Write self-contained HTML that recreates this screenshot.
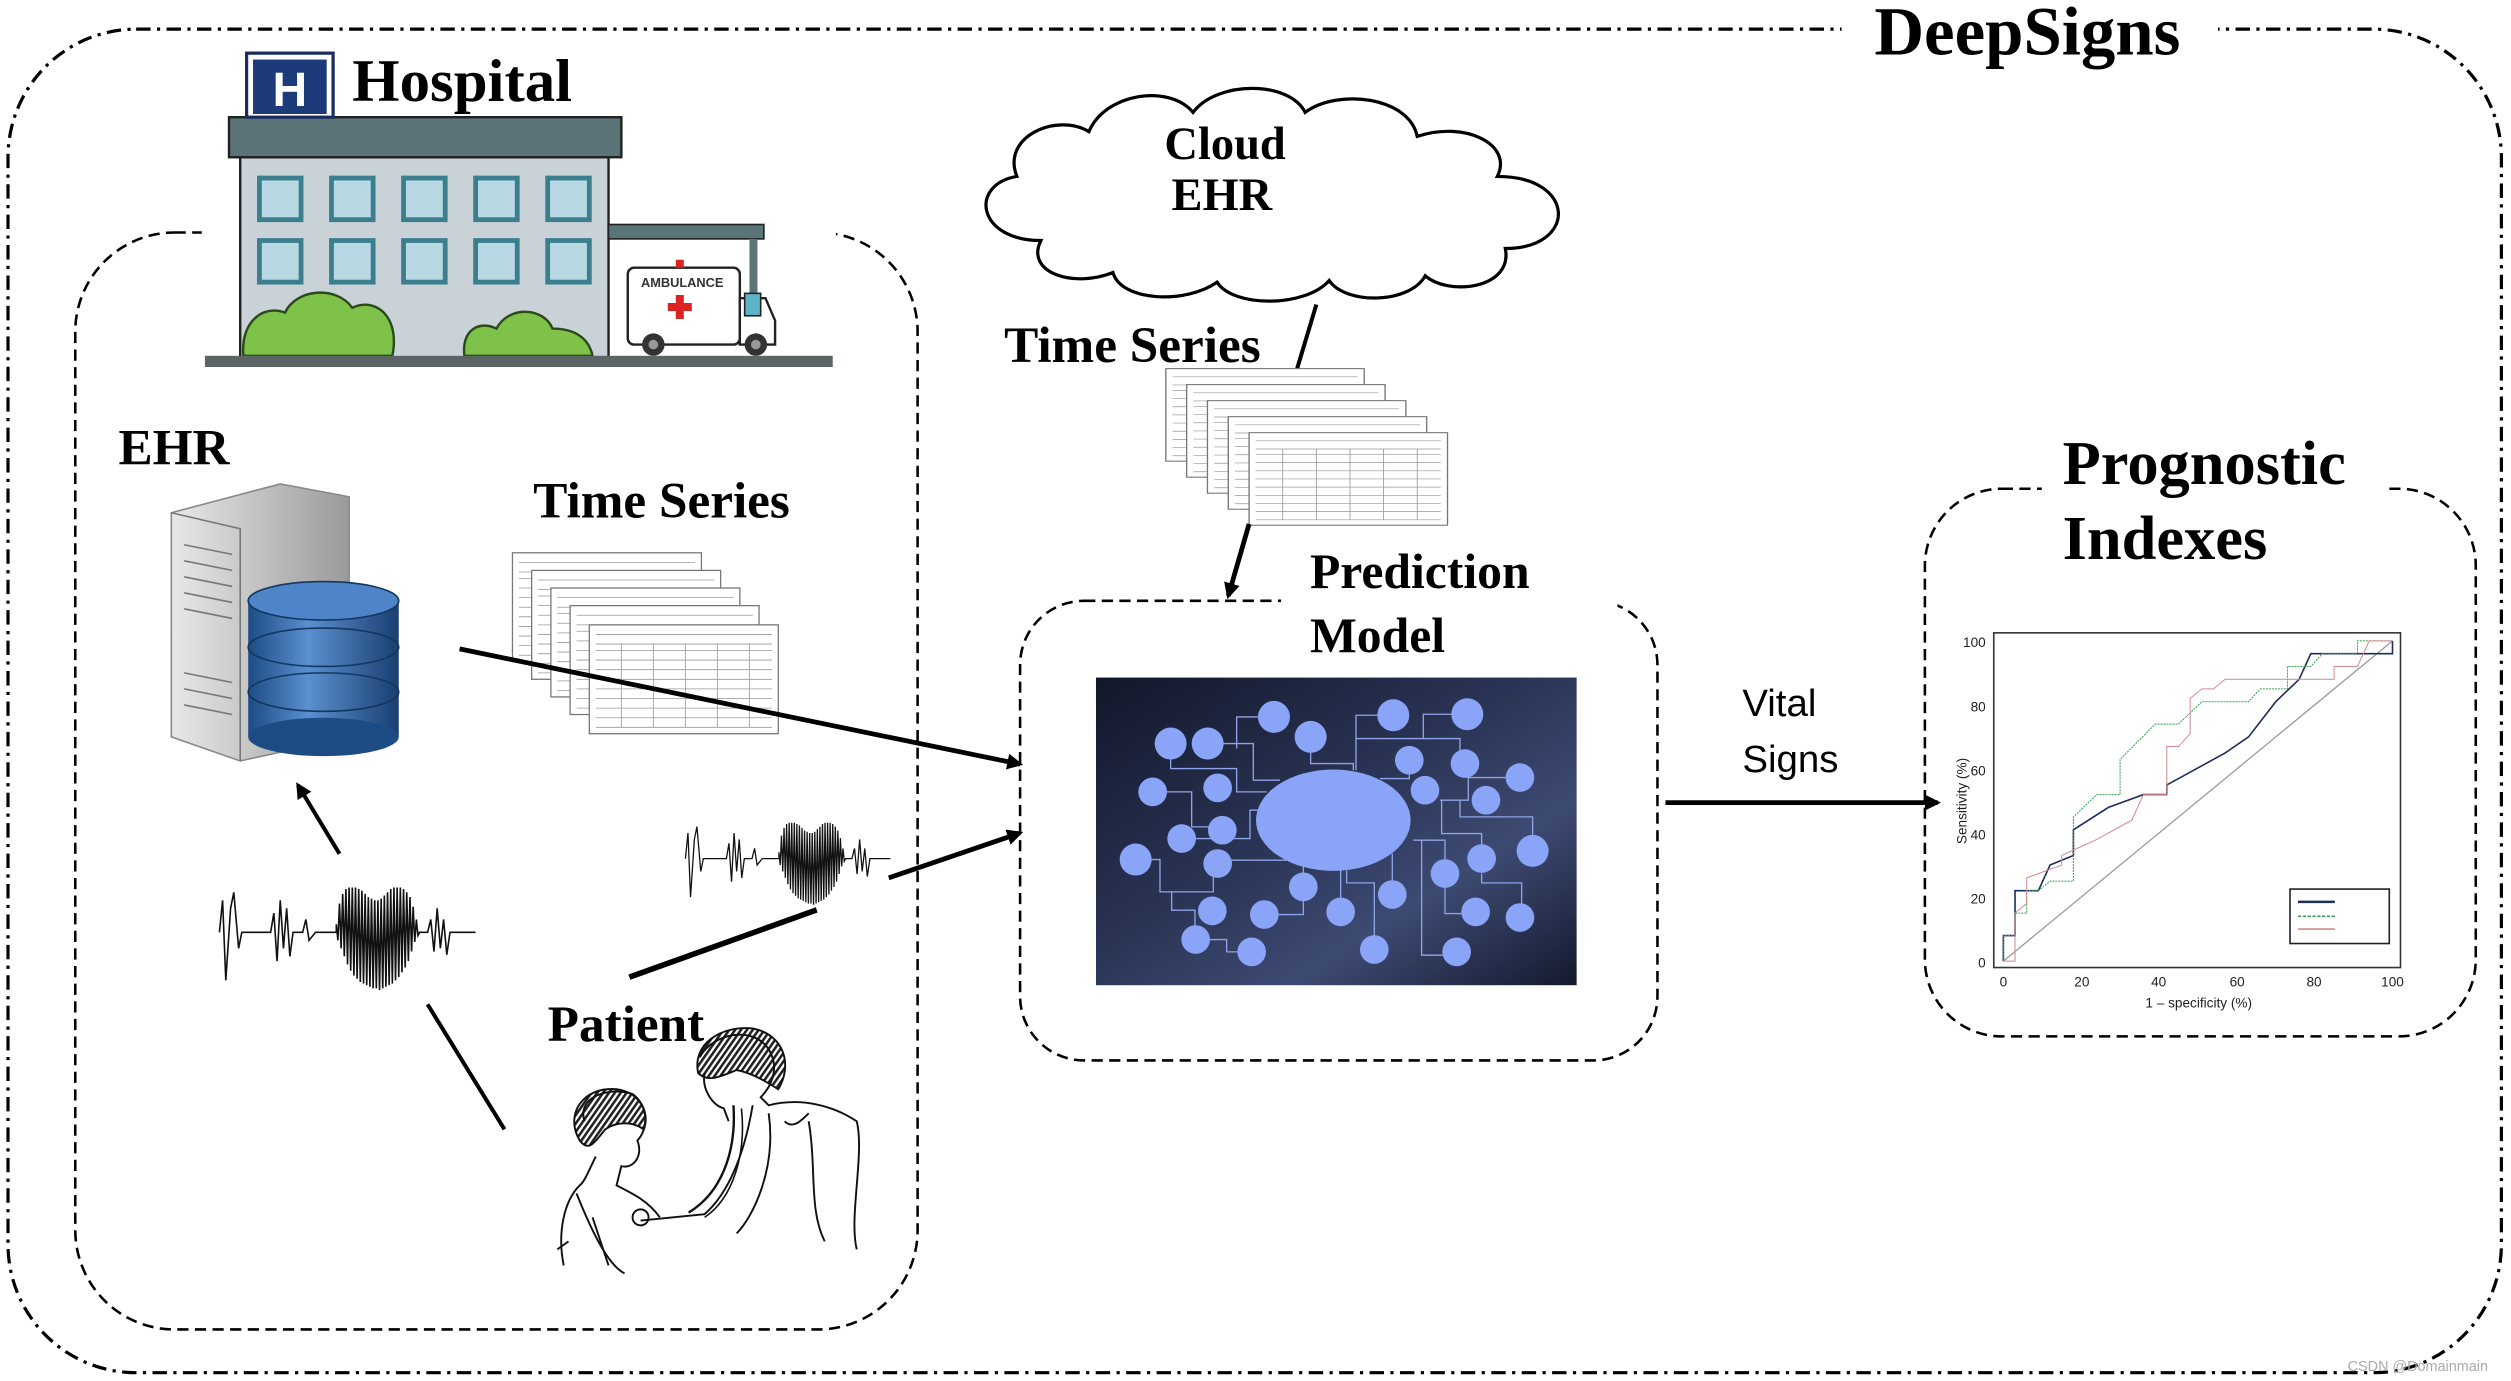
<!DOCTYPE html>
<html><head><meta charset="utf-8"><style>
html,body{margin:0;padding:0;background:#fff;}
svg{display:block;}
.t{font-family:"Liberation Serif",serif;font-weight:bold;fill:#000;}
</style></head><body>
<svg width="2511" height="1381" viewBox="0 0 1568 862" xmlns="http://www.w3.org/2000/svg">
<defs>
<marker id="ah" markerWidth="10" markerHeight="10" refX="8" refY="5" orient="auto" markerUnits="userSpaceOnUse">
<path d="M0,0 L10,5 L0,10 Z" fill="#000"/></marker>
<linearGradient id="ng" x1="0" y1="0" x2="1" y2="1">
<stop offset="0" stop-color="#12172a"/><stop offset="0.45" stop-color="#2a3455"/><stop offset="0.7" stop-color="#3d4a72"/><stop offset="1" stop-color="#141a2e"/></linearGradient>
<linearGradient id="db" x1="0" y1="0" x2="1" y2="0">
<stop offset="0" stop-color="#1d4c85"/><stop offset="0.4" stop-color="#5a8fd0"/><stop offset="1" stop-color="#1a3f70"/></linearGradient>
<linearGradient id="srv" x1="0" y1="0" x2="1" y2="0">
<stop offset="0" stop-color="#e8e8e8"/><stop offset="1" stop-color="#9a9a9a"/></linearGradient>
<pattern id="hair" width="3" height="3" patternUnits="userSpaceOnUse" patternTransform="rotate(35)"><rect width="3" height="3" fill="#fff"/><rect width="1.6" height="3" fill="#222"/></pattern>
<g id="ecg"><path fill="none" stroke="#111" stroke-width="1" d="M0,0 L2,-20 L4,30 L7,-15 L9,-25 L12,10 L14,0 L32,0 L34,-12 L36,18 L38,-20 L40,10 L42,-15 L44,15 L46,0 L52,0 L54,-8 L56,5 L60,0 L73,0 L73,-5 L74,5 L75,-18 L76,10 L77,-24 L78,15 L79,-27 L80,20 L81,-28 L82,24 L83,-28 L84,27 L85,-28 L86,29 L87,-27 L88,31 L89,-26 L90,32 L91,-24 L92,33 L93,-22 L94,34 L95,-21 L96,35 L97,-20 L98,35 L99,-20 L100,36 L101,-21 L102,35 L103,-23 L104,34 L105,-25 L106,33 L107,-27 L108,32 L109,-28 L110,30 L111,-28 L112,28 L113,-28 L114,25 L115,-27 L116,22 L117,-25 L118,18 L119,-22 L120,12 L121,-16 L122,6 L123,-8 L124,2 L125,0 L130,0 L132,-8 L134,12 L136,-15 L138,10 L140,-8 L142,14 L144,0 L160,0"/></g>
<g id="sheet"><rect x="0" y="0" width="118" height="68" fill="#fff" stroke="#777" stroke-width="0.8"/>
<path d="M4,6 H114 M4,12 H114 M4,16 H114 M4,22 H114 M4,28 H114 M4,34 H114 M4,40 H114 M4,46 H114 M4,52 H114 M4,58 H114 M4,64 H114 M20,12 V64 M40,12 V64 M60,12 V64 M80,12 V64 M100,12 V64" stroke="#999" stroke-width="0.5"/></g>
</defs>

<rect x="5" y="18" width="1557" height="839" rx="80" fill="none" stroke="#000" stroke-width="2" stroke-dasharray="9 4 2 4"/>
<rect x="1150" y="5" width="235" height="30" fill="#fff"/>
<text class="t" x="1266" y="34" font-size="43" text-anchor="middle">DeepSigns</text>

<rect x="47" y="145" width="526" height="685" rx="62" fill="none" stroke="#000" stroke-width="1.6" stroke-dasharray="7 4"/>
<rect x="126" y="135" width="396" height="20" fill="#fff"/>

<rect x="150" y="98" width="230" height="125" fill="#c9d2d6" stroke="#222" stroke-width="1.5"/>
<rect x="143" y="73" width="245" height="25" fill="#5b7478" stroke="#222" stroke-width="1.5"/>
<rect x="154" y="33" width="54" height="40" fill="#fff" stroke="#1a2b5e" stroke-width="2"/>
<rect x="158" y="37" width="46" height="34" fill="#1d3a7a"/>
<text x="181" y="66" font-family="Liberation Sans,sans-serif" font-weight="bold" font-size="30" fill="#fff" text-anchor="middle">H</text>
<g fill="#b8d9e3" stroke="#3b7f8f" stroke-width="3">
<rect x="162" y="111" width="26" height="26"/><rect x="207" y="111" width="26" height="26"/><rect x="252" y="111" width="26" height="26"/><rect x="297" y="111" width="26" height="26"/><rect x="342" y="111" width="26" height="26"/>
<rect x="162" y="150" width="26" height="26"/><rect x="207" y="150" width="26" height="26"/><rect x="252" y="150" width="26" height="26"/><rect x="297" y="150" width="26" height="26"/><rect x="342" y="150" width="26" height="26"/>
</g>
<g fill="#7fc24a" stroke="#2a4a1a" stroke-width="1.5">
<path d="M152,222 C150,200 165,190 178,195 C185,180 210,178 220,192 C235,185 250,198 245,222 Z"/>
<path d="M290,222 C288,205 300,200 310,205 C318,190 340,192 345,205 C360,205 368,212 370,222 Z"/>
</g>
<rect x="380" y="140" width="97" height="9" fill="#5b7478" stroke="#222" stroke-width="1"/>
<rect x="468" y="149" width="5" height="60" fill="#5b7478"/>
<rect x="392" y="167" width="70" height="48" rx="4" fill="#fff" stroke="#222" stroke-width="1.5"/>
<path d="M462,186 H478 L484,200 V215 H462 Z" fill="#fff" stroke="#222" stroke-width="1.5"/>
<rect x="465" y="183" width="10" height="14" fill="#5fb3c9" stroke="#222"/>
<text x="426" y="179" font-family="Liberation Sans,sans-serif" font-weight="bold" font-size="8" text-anchor="middle" fill="#333">AMBULANCE</text>
<path d="M422,184 h5 v5 h5 v5 h-5 v5 h-5 v-5 h-5 v-5 h5 Z" fill="#d22"/>
<rect x="422" y="162" width="5" height="5" fill="#d22"/>
<circle cx="408" cy="215" r="7" fill="#333"/><circle cx="408" cy="215" r="3" fill="#999"/>
<circle cx="472" cy="215" r="7" fill="#333"/><circle cx="472" cy="215" r="3" fill="#999"/>
<rect x="128" y="222" width="392" height="7" fill="#5d6466"/>
<text class="t" x="220" y="63" font-size="38">Hospital</text>

<text class="t" x="74" y="290" font-size="32">EHR</text>
<path d="M107,320 L175,302 L218,310 L218,460 L150,475 L107,460 Z" fill="url(#srv)" stroke="#888"/>
<path d="M107,320 L150,330 L150,475" fill="none" stroke="#777"/>
<g stroke="#777" stroke-width="1"><path d="M115,340 L145,346 M115,350 L145,356 M115,360 L145,366 M115,370 L145,376 M115,380 L145,386 M115,420 L145,426 M115,430 L145,436 M115,440 L145,446"/></g>
<rect x="155" y="375" width="94" height="85" fill="url(#db)"/>
<ellipse cx="202" cy="460" rx="47" ry="12" fill="#1d4c85"/>
<ellipse cx="202" cy="432" rx="47" ry="12" fill="url(#db)" stroke="#143760"/>
<ellipse cx="202" cy="404" rx="47" ry="12" fill="url(#db)" stroke="#143760"/>
<ellipse cx="202" cy="375" rx="47" ry="12" fill="#4f85c8" stroke="#143760"/>

<text class="t" x="333" y="323" font-size="32">Time Series</text>
<use href="#sheet" x="320" y="345"/><use href="#sheet" x="332" y="356"/><use href="#sheet" x="344" y="367"/><use href="#sheet" x="356" y="378"/><use href="#sheet" x="368" y="390"/>

<use href="#ecg" transform="translate(137,582)"/>
<use href="#ecg" transform="translate(428,536) scale(0.8)"/>

<text class="t" x="342" y="650" font-size="32">Patient</text>
<g stroke="#111" stroke-width="1.2">
<path d="M362,712 C352,695 365,678 385,680 C400,682 406,695 402,705 C395,700 385,700 378,705 C372,712 368,720 362,712 Z" fill="url(#hair)"/>
<path d="M436,670 C432,652 450,640 470,642 C490,646 495,665 486,680 C478,675 470,670 460,668 C450,672 442,676 436,670 Z" fill="url(#hair)"/>
</g>
<g fill="none" stroke="#111" stroke-width="1.2">
<path d="M365,700 C360,685 380,678 395,683 C405,690 405,705 398,712 C402,722 395,730 388,728 L385,740 C395,745 405,750 412,760 M372,722 C368,730 365,738 362,740 C352,750 348,770 352,790 M360,745 C370,770 380,790 390,795 M355,775 L348,780 M370,760 L380,790"/>
<path d="M437,660 C445,645 470,640 480,655 C488,668 480,680 475,685 L480,690 C500,685 520,690 535,700 C540,720 530,760 535,780 M440,670 C438,680 445,690 452,692 L455,700 M470,690 C465,720 455,745 440,758 L400,762 M480,695 C485,730 470,760 460,770 M505,700 C510,730 505,755 515,775 M490,700 C495,705 500,700 505,695"/>
<path d="M458,690 C460,720 450,745 430,757" stroke-width="1.5"/>
<path d="M463,692 C466,720 458,748 440,760" stroke-width="1"/>
<circle cx="400" cy="760" r="5"/>
</g>

<line x1="287" y1="405" x2="637" y2="477" stroke="#000" stroke-width="3" marker-end="url(#ah)"/>
<line x1="555" y1="548" x2="637" y2="520" stroke="#000" stroke-width="3" marker-end="url(#ah)"/>
<line x1="393" y1="610" x2="510" y2="568" stroke="#000" stroke-width="3.5"/>
<line x1="267" y1="627" x2="315" y2="705" stroke="#000" stroke-width="2.5"/>
<line x1="212" y1="533" x2="186" y2="490" stroke="#000" stroke-width="2.5" marker-end="url(#ah)"/>

<path d="M650,150 C610,150 605,115 635,110 C625,85 660,70 680,82 C690,58 730,52 745,70 C760,50 805,50 815,70 C835,55 880,60 885,85 C915,75 945,90 935,110 C985,110 985,155 940,155 C945,180 905,185 890,172 C880,190 840,190 830,175 C815,192 770,192 760,176 C740,190 700,188 695,170 C670,180 640,170 650,150 Z" fill="#fff" stroke="#000" stroke-width="2"/>
<text class="t" x="765" y="99" font-size="29" text-anchor="middle">Cloud</text>
<text class="t" x="763" y="131" font-size="29" text-anchor="middle">EHR</text>
<line x1="822" y1="190" x2="810" y2="230" stroke="#000" stroke-width="2.5"/>

<text class="t" x="627" y="226" font-size="32">Time Series</text>
<g transform="translate(728,230) scale(1.05,0.85)"><use href="#sheet"/></g>
<g transform="translate(741,240) scale(1.05,0.85)"><use href="#sheet"/></g>
<g transform="translate(754,250) scale(1.05,0.85)"><use href="#sheet"/></g>
<g transform="translate(767,260) scale(1.05,0.85)"><use href="#sheet"/></g>
<g transform="translate(780,270) scale(1.05,0.85)"><use href="#sheet"/></g>
<line x1="780" y1="327" x2="767" y2="372" stroke="#000" stroke-width="3" marker-end="url(#ah)"/>

<rect x="637" y="375" width="398" height="287" rx="40" fill="none" stroke="#000" stroke-width="1.6" stroke-dasharray="7 4"/>
<rect x="800" y="365" width="210" height="20" fill="#fff"/>
<text class="t" x="818" y="367" font-size="31">Prediction</text>
<text class="t" x="818" y="407" font-size="31">Model</text>

<svg x="674.4" y="412.1" width="324.7" height="212.3" viewBox="0 0 1560 1020">
<rect x="48" y="52" width="1442" height="923" fill="url(#ng)"/>
<g fill="none" stroke="#8fa4e6" stroke-width="4">
<path d="M272,250 V325 H470 V395 H560"/><path d="M383,250 H520 V360 H600"/><path d="M582,170 H470 V265"/><path d="M692,230 V310 H820 V330"/>
<path d="M940,165 H828 V330"/><path d="M828,235 H1140 V310"/><path d="M1162,162 H1030 V235"/><path d="M988,300 V355 H900"/>
<path d="M1320,352 H1165 V420 H1080"/><path d="M218,395 H335 V500 H427"/><path d="M305,535 H510 V450 H540"/><path d="M1140,420 V470 H1358 V572"/>
<path d="M1085,420 V520 H1205 V595"/><path d="M413,600 H620"/><path d="M167,598 H240 V695 H400 V610"/><path d="M275,695 V750 H345 V838"/>
<path d="M347,838 H440 V875 H515"/><path d="M553,763 H670 V620"/><path d="M782,755 V630"/><path d="M800,630 V668 H883 V868"/>
<path d="M937,703 V580"/><path d="M1025,540 V885 H1130"/><path d="M1000,540 H1095 V760 H1187"/><path d="M1205,640 V668 H1325 V772"/>
</g>
<ellipse cx="760" cy="480" rx="232" ry="152" fill="#8aa4f7"/>
<g fill="#8aa4f7">
<circle cx="272" cy="250" r="48"/><circle cx="383" cy="250" r="48"/><circle cx="582" cy="170" r="48"/><circle cx="692" cy="230" r="48"/>
<circle cx="940" cy="165" r="48"/><circle cx="1162" cy="162" r="48"/><circle cx="988" cy="300" r="43"/><circle cx="1155" cy="310" r="43"/>
<circle cx="1320" cy="352" r="43"/><circle cx="218" cy="395" r="43"/><circle cx="413" cy="383" r="43"/><circle cx="1035" cy="390" r="43"/>
<circle cx="1218" cy="420" r="43"/><circle cx="427" cy="510" r="43"/><circle cx="305" cy="535" r="43"/><circle cx="1358" cy="572" r="48"/>
<circle cx="167" cy="598" r="48"/><circle cx="413" cy="610" r="43"/><circle cx="1205" cy="595" r="43"/><circle cx="1095" cy="640" r="43"/>
<circle cx="670" cy="680" r="43"/><circle cx="937" cy="703" r="43"/><circle cx="397" cy="752" r="43"/><circle cx="553" cy="763" r="43"/>
<circle cx="782" cy="755" r="43"/><circle cx="1187" cy="755" r="43"/><circle cx="1320" cy="772" r="43"/><circle cx="347" cy="838" r="43"/>
<circle cx="515" cy="875" r="43"/><circle cx="883" cy="868" r="43"/><circle cx="1130" cy="875" r="43"/>
</g>
</svg>

<text x="1088" y="447" font-family="Liberation Sans,sans-serif" font-size="24">Vital</text>
<text x="1088" y="482" font-family="Liberation Sans,sans-serif" font-size="24">Signs</text>
<line x1="1040" y1="501" x2="1210" y2="501" stroke="#000" stroke-width="3" marker-end="url(#ah)"/>

<rect x="1202" y="305" width="344" height="342" rx="48" fill="none" stroke="#000" stroke-width="1.6" stroke-dasharray="7 4"/>
<rect x="1275" y="290" width="215" height="25" fill="#fff"/>
<text class="t" x="1288" y="302" font-size="39">Prognostic</text>
<text class="t" x="1288" y="349" font-size="39">Indexes</text>

<rect x="1245" y="395" width="254" height="209" fill="none" stroke="#333" stroke-width="1"/>
<g font-family="Liberation Sans,sans-serif" font-size="8.5" fill="#222">
<text x="1240" y="404" text-anchor="end">100</text><text x="1240" y="444" text-anchor="end">80</text><text x="1240" y="484" text-anchor="end">60</text><text x="1240" y="524" text-anchor="end">40</text><text x="1240" y="564" text-anchor="end">20</text><text x="1240" y="604" text-anchor="end">0</text>
<text x="1251" y="616" text-anchor="middle">0</text><text x="1300" y="616" text-anchor="middle">20</text><text x="1348" y="616" text-anchor="middle">40</text><text x="1397" y="616" text-anchor="middle">60</text><text x="1445" y="616" text-anchor="middle">80</text><text x="1494" y="616" text-anchor="middle">100</text>
<text x="1373" y="629" text-anchor="middle">1 – specificity (%)</text>
<text transform="translate(1228,500) rotate(-90)" text-anchor="middle">Sensitivity (%)</text>
</g>
<line x1="1251" y1="600" x2="1494" y2="400" stroke="#999" stroke-width="0.8"/>
<svg x="1251" y="400" width="243" height="200" viewBox="0 0 100 100" preserveAspectRatio="none" overflow="visible">
<g fill="none">
<path d="M0,100 V92 H3 V78 H9 L12,70 L18,67 V59 L27,52 L36,48 H42 V45 L48,41 L57,35 L63,30 L70,19 L76,12 L79,4 H100 V0" stroke="#1b2f5a" stroke-width="1.6" vector-effect="non-scaling-stroke"/>
<path d="M0,100 V92 H3 V85 H6 V78 H9 L12,75 H18 V55 L24,48 H30 V37 L39,26 H45 L51,19 H63 L66,15 H73 V8 H79 L82,4 H91 V0 H100" stroke="#3a9a55" stroke-width="1" stroke-dasharray="2 1" vector-effect="non-scaling-stroke"/>
<path d="M0,100 H3 V85 L6,82 V74 L15,70 V67 L24,62 L33,56 L36,48 H42 V33 H45 L48,29 V18 L51,15 H54 L57,12 H85 V8 H91 L94,0 H100" stroke="#d08a8a" stroke-width="1" vector-effect="non-scaling-stroke"/>
</g>
</svg>
<rect x="1430" y="555" width="62" height="34" fill="none" stroke="#222" stroke-width="1"/>
<line x1="1435" y1="563" x2="1458" y2="563" stroke="#1b2f5a" stroke-width="1.6"/>
<line x1="1435" y1="572" x2="1458" y2="572" stroke="#3a9a55" stroke-width="1" stroke-dasharray="2 1"/>
<line x1="1435" y1="580" x2="1458" y2="580" stroke="#d08a8a" stroke-width="1"/>

<text x="1466" y="856" font-family="Liberation Sans,sans-serif" font-size="9" fill="#aaa">CSDN @Domainmain</text>
</svg>
</body></html>
